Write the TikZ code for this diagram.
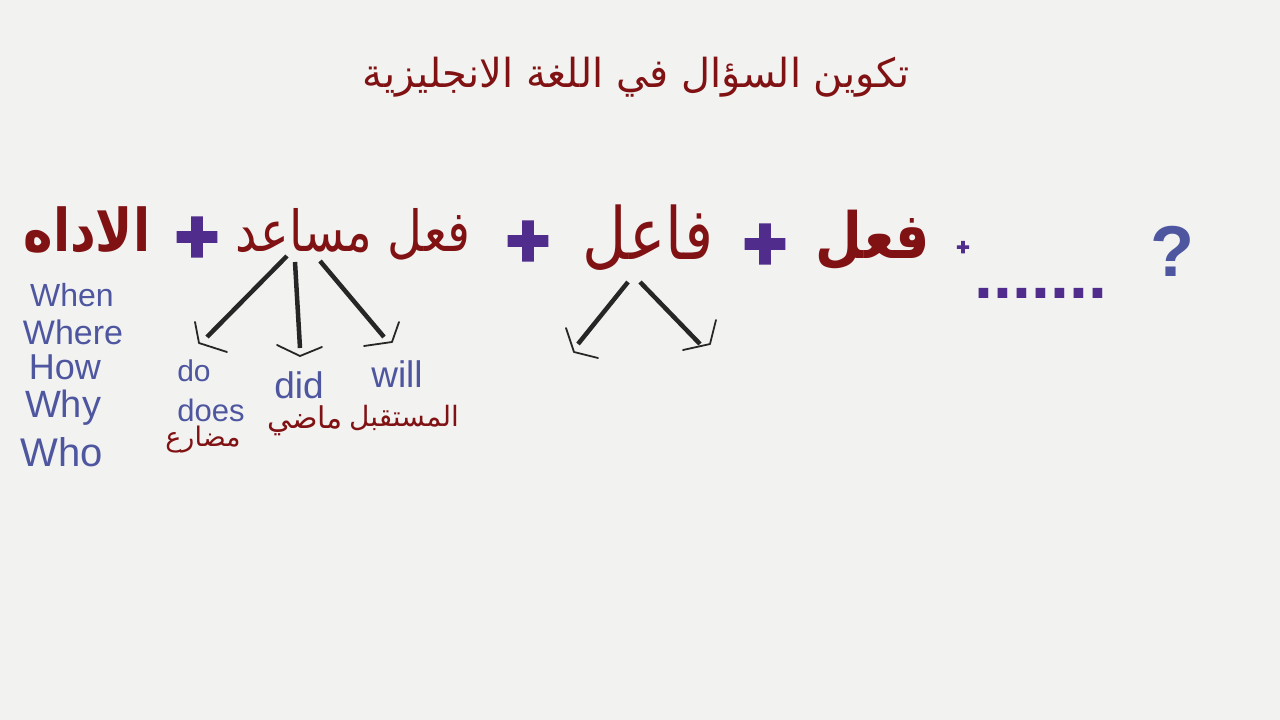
\documentclass[tikz,border=0pt]{standalone}
\usepackage{graphicx}
\usepackage{fontspec}
\setmainfont{Liberation Sans}
\setsansfont{Liberation Sans}
\newfontfamily\arabicfont[Script=Arabic]{DejaVu Sans}
\newfontfamily\heavyfont[FakeBold=5]{Liberation Sans Bold}
\TeXXeTstate=1
\definecolor{bgc}{RGB}{242,242,240}
\definecolor{ardark}{RGB}{128,18,20}
\definecolor{plusc}{RGB}{80,45,140}
\definecolor{slate}{RGB}{78,86,160}
\newcommand\myfs[1]{\fontsize{#1}{#1}\selectfont}
\newcommand\tallbox[1]{\scalebox{1}[1.18]{#1}}
\tikzset{
  ar/.style={text=ardark, inner sep=0pt, font=\arabicfont},
  en/.style={text=slate, inner sep=0pt, font=\sffamily},
  plussign/.style={text=plusc, inner sep=0pt, font=\heavyfont\myfs{74}},
  mainline/.style={line width=4.5pt, draw=black!85},
  chev/.style={line width=1.8pt, draw=black!85, line cap=round, line join=round},
}
\begin{document}
\begin{tikzpicture}[x=1pt,y=-1pt]
\fill[bgc] (0,0) rectangle (1280,720);
\useasboundingbox (0,0) rectangle (1280,720);
% title
\node[ar] (title) at (636,77) {\myfs{40}\beginR تكوين السؤال في اللغة الانجليزية\endR};
% main row
\node[ar] (adah) at (87,230) {\tallbox{\myfs{50}\bfseries\beginR الاداه\endR}};
\node[plussign] (p1) at (197,240) {+};
\node[ar] (fm) at (353,234) {\tallbox{\myfs{48}\beginR فعل مساعد\endR}};
\node[plussign] (p2) at (528,244) {+};
\node[ar] (fael) at (648,238) {\tallbox{\myfs{61}\beginR فاعل\endR}};
\node[plussign] (p3) at (765,247) {+};
\node[ar] (feel) at (873,240) {\tallbox{\myfs{54}\bfseries\beginR فعل\endR}};
\node[plussign, font=\heavyfont\myfs{22}] (p4) at (963,248) {+};
\node[text=plusc, inner sep=0pt, font=\sffamily\bfseries\myfs{68}] (dots) at (1041,293) {.......};
\node[en, text=slate, font=\sffamily\bfseries\myfs{72}] (q) at (1172,251) {?};
% question words
\node[en, font=\sffamily\myfs{32}] (when) at (72,295) {When};
\node[en, font=\sffamily\myfs{34}] (where) at (73,332) {Where};
\node[en, font=\sffamily\myfs{36}] (how) at (65,367) {How};
\node[en, font=\sffamily\myfs{38}] (why) at (63,408) {Why};
\node[en, font=\sffamily\myfs{40}] (who) at (62,452) {Who};
% auxiliaries
\node[en, font=\sffamily\myfs{30}] (do) at (194,371) {do};
\node[en, font=\sffamily\myfs{31}] (does) at (211,410) {does};
\node[en, font=\sffamily\myfs{37}] (did) at (299,385) {did};
\node[en, font=\sffamily\myfs{37}] (will) at (397,374) {will};
\node[ar] (mudare) at (203,440) {\myfs{27}\beginR مضارع\endR};
\node[ar] (madi) at (305,421) {\myfs{30}\beginR ماضي\endR};
\node[ar] (mustaqbal) at (404,418) {\myfs{28}\beginR المستقبل\endR};
% connectors from fm
\coordinate (a1) at (287,256); \coordinate (b1) at (207,337);
\coordinate (a2) at (295,262); \coordinate (b2) at (300,348);
\coordinate (a3) at (320,261); \coordinate (b3) at (384,337);
\draw[mainline] (a1) -- (b1);
\draw[mainline] (a2) -- (b2);
\draw[mainline] (a3) -- (b3);
\draw[chev] (195,322) -- (199,343) -- (227,352);
\draw[chev] (277,345) -- (300,356) -- (322,347);
\draw[chev] (399,322) -- (392,342) -- (364,346);
% connectors from fael
\coordinate (a4) at (628,282); \coordinate (b4) at (578,344);
\coordinate (a5) at (640,282); \coordinate (b5) at (700,344);
\draw[mainline] (a4) -- (b4);
\draw[mainline] (a5) -- (b5);
\draw[chev] (566,328) -- (574,352) -- (598,358);
\draw[chev] (716,320) -- (710,344) -- (683,350);
\end{tikzpicture}
\end{document}
